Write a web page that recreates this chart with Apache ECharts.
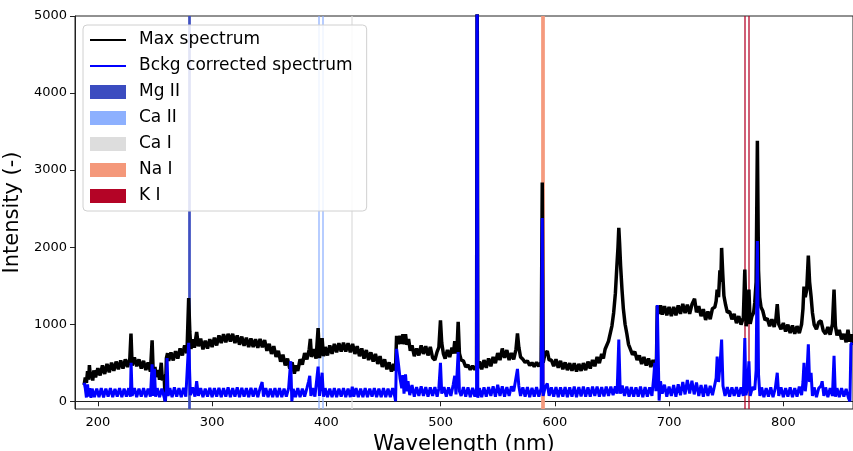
<!DOCTYPE html>
<html>
<head>
<meta charset="utf-8">
<script src="https://cdn.jsdelivr.net/npm/echarts@6/dist/echarts.min.js"></script>
<style>
html,body{margin:0;padding:0;background:#fff}
#main{width:853px;height:451px}
</style>
</head>
<body>
<div id="main"></div>
<script>
// spectrum, [wavelength nm, intensity]
var maxSpectrum = [
 [188,210],[189,310],[190,240],[191,390],[192,280],[192.6,470],[193.5,310],[194.5,380],[195.5,270],[196.5,400],
 [198,310],[200,430],[202,335],[204,465],[206,355],[208,485],[210,375],[212,500],[214,395],[216,515],
 [218,415],[220,530],[222,425],[224,545],[226,445],[228,555],[229,880],[230,465],[232,570],[234,455],
 [236,545],[238,425],[240,525],[242,405],[244,505],[246,385],[247.5,790],[248.5,355],[250,445],[251,315],
 [253,405],[254,280],[255.5,500],[256.5,270],[258,340],[259,5],[260,560],[261,625],[262,525],[264,635],
 [266,530],[268,650],[270,555],[272,685],[274,595],[276,725],[278,625],[279.5,1340],[280.5,900],[281.5,680],
 [283,805],[284.5,695],[286.5,900],[288,715],[290,815],[292,675],[294,785],[296,685],[298,805],[300,705],
 [302,825],[304,725],[306,855],[308,755],[310,870],[312,765],[314,875],[316,775],[318,875],[320,755],
 [322,855],[324,735],[326,840],[328,720],[330,825],[332,705],[334,815],[336,705],[338,805],[340,695],
 [342,810],[344,700],[346,795],[348,655],[350,745],[352,615],[354,715],[356,575],[358,655],[360,515],
 [362,605],[364,465],[366,555],[368,425],[370,505],[372,360],[373.5,465],[375,395],[377,545],[379,475],
 [381,625],[383,545],[385,675],[386,810],[387,575],[389,675],[391,555],[392.8,950],[394,560],[396.3,820],
 [397.5,585],[399,705],[401,595],[403,725],[405,615],[407,745],[409,635],[411,755],[413,645],[415,760],
 [417,645],[419,755],[421,635],[423,745],[425,615],[427,715],[429,585],[431,685],[433,555],[435,665],
 [437,535],[439,635],[441,515],[443,615],[445,485],[447,585],[449,445],[451,545],[453,415],[455,505],
 [457,385],[459,485],[460.5,400],[461.5,850],[463,740],[464.5,850],[466,745],[467,870],[468.3,740],[469.3,870],
 [470.5,735],[472,810],[473.5,655],[475,725],[477,585],[479,685],[481,595],[483,725],[485,615],[487,715],
 [489,595],[491,705],[493,565],[495,535],[497,645],[498.5,700],[499.9,1050],[501,760],[502.5,615],[504,555],
 [506,665],[508,575],[510,695],[511.3,620],[512.4,780],[513.5,620],[514.5,720],[515.4,1030],[516.5,620],[518,535],
 [520,525],[522,445],[524,470],[526,410],[528,460],[530,410],[531.5,460],[532,6000],[532.6,430],[534,515],
 [536,415],[538,535],[540,435],[542,555],[544,455],[546,575],[548,495],[550,625],[552,535],[554,685],
 [556,565],[558,665],[560,535],[562,625],[564,545],[566,675],[567.3,880],[568.5,700],[570,575],[572,545],
 [574,505],[576,525],[578,465],[580,500],[582,450],[584,505],[586,455],[588,510],[589,2840],[589.8,500],
 [591.5,625],[593.4,650],[595,535],[597,535],[599,455],[601,545],[603,435],[605,525],[607,415],[609,505],
 [611,405],[613,495],[615,395],[617,495],[619,385],[621,485],[623,395],[625,495],[627,405],[629,515],
 [631,425],[633,535],[635,455],[637,575],[639,495],[641,615],[642.5,555],[644,675],[645.5,660],[647,780],
 [648.5,800],[650,980],[651.5,1150],[653,1400],[654.3,1750],[655.3,2000],[656,2250],[656.7,2050],[657.6,1750],[658.8,1450],
 [660,1200],[661.5,1000],[663,880],[664.5,740],[666,740],[668,605],[670,645],[672,535],[674,595],[676,485],
 [678,575],[680,465],[682,555],[684,445],[686,535],[688,435],[689,560],[689.7,1240],[691,1135],[692.5,1245],
 [694,1125],[696,1235],[698,1115],[700,1225],[702,1105],[704,1225],[706,1115],[708,1245],[710,1135],[712,1265],
 [714,1145],[716,1255],[718,1135],[720,1255],[722.3,1330],[724,1155],[726,1235],[728,1105],[730,1195],[732,1055],
 [734,1165],[736,1065],[738,1205],[740,1220],[741.2,1300],[742.1,1450],[743.3,1350],[744.5,1700],[745.3,1550],[746,1990],
 [747,1650],[748,1370],[749.5,1250],[751,1155],[753,1165],[755,1065],[757,1135],[759,1015],[761,1105],[763,995],
 [765,1085],[766.3,1710],[767.5,975],[768.8,1075],[769.9,1450],[771,1005],[772.5,1105],[774,1150],[775,1280],[776.2,1550],
 [777.3,3380],[778.3,1700],[779.3,1350],[780.5,1220],[782,1175],[784,1055],[786,1075],[788,975],[790,1065],[792,965],
 [793.5,1065],[794.7,1260],[796,1000],[798,935],[800,1015],[802,905],[804,995],[806,885],[808,985],[810,875],
 [812,975],[814,885],[816,1000],[817.2,1200],[818.1,1490],[819.2,1350],[820.5,1450],[821.9,1890],[823,1550],[824.3,1360],
 [825.5,1150],[827,995],[829,935],[831,1025],[833,1045],[835,915],[837,875],[839,965],[841,865],[843,1000],
 [844.4,1450],[845.6,975],[847,855],[849,925],[851,805],[853,875],[855,765],[856.6,930],[858,775],[859.5,870],
 [860.5,730]
];

var bckgSpectrum = [
 [188,240],[189,170],[190,50],[191,220],[192,60],[193,170],[194,45],[195,165],[197,55],[199,165],
 [201,55],[203,170],[205,50],[207,165],[209,60],[211,170],[213,55],[215,160],[217,60],[219,170],
 [221,55],[223,165],[225,60],[227,170],[228.5,60],[229.1,500],[230,70],[232,170],[234,55],[236,165],
 [238,60],[240,170],[242,55],[244,165],[246,60],[247.5,480],[248.5,70],[249.5,420],[250.5,60],[252,170],
 [254,55],[256,165],[258,55],[259,0],[260,170],[260.6,560],[261.5,70],[263,170],[265,55],[267,180],
 [269,60],[271,170],[273,55],[275,175],[277,60],[279.5,760],[281,80],[283,180],[285,60],[286.5,260],
 [288,70],[290,170],[292,55],[294,165],[296,60],[298,175],[300,55],[302,170],[304,60],[306,175],
 [308,55],[310,170],[312,60],[314,180],[316,55],[318,170],[320,60],[322,180],[324,55],[326,175],
 [328,60],[330,170],[332,55],[334,175],[336,60],[338,170],[340,55],[342,170],[343.8,250],[345,60],
 [347,170],[349,55],[351,165],[353,55],[355,170],[357,55],[359,170],[361,55],[363,165],[365,60],
 [367,170],[368.8,520],[369.8,0],[371,160],[373,55],[375,170],[377,55],[379,165],[381,60],[383,170],
 [384.5,260],[385.5,330],[386.5,70],[388,170],[390,60],[392.8,450],[394,70],[396.3,370],[397.5,60],[399,170],
 [401,55],[403,165],[405,55],[407,170],[409,55],[411,165],[413,60],[415,170],[417,55],[419,165],
 [421,55],[422.7,190],[424,60],[426,170],[428,55],[430,165],[432,55],[434,170],[436,55],[438,165],
 [440,60],[442,170],[444,55],[446,165],[448,55],[450,170],[452,55],[454,165],[456,55],[458,170],
 [460,55],[460.6,0],[461.5,680],[463,500],[464.5,300],[466,170],[467,340],[468,100],[469.3,350],[470.5,130],
 [471.5,260],[473,80],[475,210],[477,60],[479,185],[481,70],[483,195],[485,70],[487,185],[489,60],
 [491,180],[493,70],[495,185],[497,60],[498.5,170],[499.9,500],[501,100],[503,185],[505,60],[507,180],
 [509,70],[511,210],[512.4,330],[513.5,90],[515.4,640],[516.5,130],[518,70],[520,185],[522,60],[524,180],
 [526,55],[528,175],[530,60],[531.5,170],[532,6000],[532.6,45],[534,170],[536,55],[538,180],[540,60],
 [542,185],[544,70],[546,195],[548,60],[550,215],[552,70],[554,195],[556,60],[558,185],[560,70],
 [562,195],[564,130],[565.5,260],[567.3,420],[568.5,200],[570,70],[572,180],[574,60],[576,185],[578,55],
 [580,175],[582,60],[584,185],[586,60],[588,170],[589,2380],[589.8,70],[591.5,180],[593.4,230],[595,70],
 [597,180],[599,60],[601,185],[603,55],[605,180],[607,60],[609,185],[611,55],[613,180],[615,60],
 [617,190],[619,55],[621,185],[623,65],[625,190],[627,60],[629,180],[631,60],[633,190],[635,70],
 [637,190],[639,60],[641,185],[643,65],[645,190],[647,70],[649,190],[651,80],[653,195],[654.5,100],
 [656,800],[657.3,100],[659,205],[661,70],[663,190],[665,60],[667,185],[669,60],[671,180],[673,60],
 [675,190],[677,55],[679,185],[681,60],[683,180],[685,70],[686.5,300],[687.5,500],[688.5,130],[689.7,1250],
 [690.5,600],[691.3,10],[692.5,260],[694,100],[696,215],[698,60],[700,190],[702,70],[704,210],[706,60],
 [708,220],[710,80],[712,250],[714,90],[716,275],[718,100],[720,265],[722,90],[724,245],[726,70],
 [728,210],[730,60],[732,215],[734,70],[736,200],[738,80],[740,215],[741.2,300],[742.1,580],[743.3,250],
 [744.5,450],[746,800],[747.2,200],[749,70],[751,185],[753,60],[755,180],[757,70],[759,185],[761,60],
 [763,180],[765,70],[766.3,820],[767.3,80],[768.5,170],[769.9,520],[771,70],[773,185],[775,150],[776.2,400],
 [777.3,2080],[778.3,350],[779.5,70],[781,180],[783,55],[785,170],[787,60],[789,180],[791,55],[793,170],
 [794.7,370],[796,70],[798,180],[800,55],[802,170],[804,60],[806,180],[808,55],[810,170],[812,60],
 [814,190],[816,80],[817.2,250],[818.1,500],[819.2,130],[820.5,300],[821.9,740],[823,250],[824.3,370],[825.5,70],
 [827,180],[829,55],[831,170],[833,200],[834,260],[835.5,70],[837,180],[839,55],[841,170],[843,70],
 [844.4,590],[845.6,60],[847,170],[849,55],[851,170],[853,60],[855,160],[857,45],[858.3,0],[859.2,740],
 [860.5,760]
];

var lineNames = ['Mg II', 'Ca II', 'Ca I', 'Na I', 'K I'];
var lineWavelengths = [[279.55, 280.27], [393.37, 396.85], [422.67], [589.0, 589.59], [766.49, 769.9]];
var xTicks = [200, 300, 400, 500, 600, 700, 800];
var yTicks = [0, 1000, 2000, 3000, 4000, 5000];

var lineColors = ['#3b4cc0', '#8db0fe', '#dddddd', '#f4987a', '#b40426'];
var lineWidths = [2, 1.5, 1.5, 3, 1.5];
var font = 'DejaVu Sans';
// thin horizontal bar used as legend handle for the two spectra
var lineIcon = 'path://M0,0 H36 V2 H0 Z';

var myChart = echarts.init(document.getElementById('main'));

var series = [
  {
    name: 'Max spectrum', type: 'line', data: maxSpectrum, symbol: 'none', z: 3,
    lineStyle: {color: '#000', width: 3.5}, itemStyle: {color: '#000'}
  },
  {
    name: 'Bckg corrected spectrum', type: 'line', data: bckgSpectrum, symbol: 'none', z: 4,
    lineStyle: {color: '#0000ff', width: 3}, itemStyle: {color: '#0000ff'}
  }
];
var legendData = [{name: 'Max spectrum', icon: lineIcon}, {name: 'Bckg corrected spectrum', icon: lineIcon}];

// element lines sit behind the spectra
lineNames.forEach(function (n, i) {
  legendData.push({name: n, icon: 'rect'});
  series.push({
    name: n, type: 'line', data: [], symbol: 'none', z: 1,
    itemStyle: {color: lineColors[i]}, lineStyle: {color: lineColors[i]},
    markLine: {
      z: 1, silent: true, symbol: ['none', 'none'], label: {show: false},
      emphasis: {disabled: true},
      lineStyle: {color: lineColors[i], width: lineWidths[i], type: 'solid', opacity: 0.85},
      data: lineWavelengths[i].map(function (w) { return {xAxis: w}; })
    }
  });
});

var option = {
  animation: false,
  backgroundColor: '#fff',
  grid: {left: 75, right: 0, top: 16, bottom: 42, outerBoundsMode: 'none', show: true, borderColor: '#222', borderWidth: 1},
  legend: {
    orient: 'vertical', left: 83, top: 25, z: 10,
    data: legendData,
    itemWidth: 36, itemHeight: 14, itemGap: 8,
    padding: [6, 14, 6, 7],
    borderColor: '#d0d0d0', borderWidth: 1, borderRadius: 4,
    backgroundColor: 'rgba(255,255,255,0.85)',
    textStyle: {fontFamily: font, fontSize: 17, color: '#000', lineHeight: 18, padding: [0, 0, 0, 8]}
  },
  xAxis: {
    type: 'value', min: 180, max: 861,
    name: 'Wavelength (nm)', nameLocation: 'middle', nameGap: 16,
    nameTextStyle: {fontFamily: font, fontSize: 21, color: '#000'},
    axisLine: {lineStyle: {color: '#222'}},
    axisTick: {customValues: xTicks, length: 5, lineStyle: {color: '#222'}},
    axisLabel: {customValues: xTicks, fontFamily: font, fontSize: 13, color: '#000', margin: 7},
    splitLine: {show: false}
  },
  yAxis: {
    type: 'value', min: -100, max: 5000,
    name: 'Intensity (-)', nameLocation: 'middle', nameGap: 25,
    nameTextStyle: {fontFamily: font, fontSize: 21, color: '#000'},
    axisLine: {show: true, lineStyle: {color: '#222'}},
    axisTick: {show: true, customValues: yTicks, length: 5, lineStyle: {color: '#222'}},
    axisLabel: {
      customValues: yTicks, fontFamily: font, fontSize: 13, color: '#000', margin: 8,
      formatter: function (v) { return String(v); }
    },
    splitLine: {show: false}
  },
  series: series
};

myChart.setOption(option);
</script>
</body>
</html>
